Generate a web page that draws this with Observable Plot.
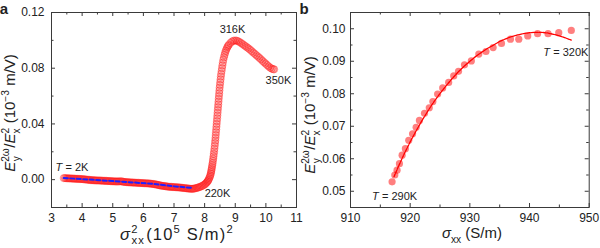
<!DOCTYPE html>
<html>
<head>
<meta charset="utf-8">
<script src="https://cdn.jsdelivr.net/npm/d3@7"></script>
<script src="https://cdn.jsdelivr.net/npm/@observablehq/plot@0.6"></script>
<style>
  html, body { margin: 0; padding: 0; background: #fff; }
  #fig { display: flex; width: 600px; height: 248px; }
  #fig svg { display: block; overflow: visible; }
</style>
</head>
<body>
<div id="fig"></div>
<script>
// Panel a: E_y^2w / E_x^2 versus sigma_xx^2 (10^5 S/m)^2, 2 K to 350 K
const sigmaSq = [
  3.40, 3.44, 3.48, 3.52, 3.56, 3.60, 3.64, 3.68, 3.72, 3.76,
  3.80, 3.84, 3.88, 3.92, 3.96, 4.00, 4.04, 4.08, 4.12, 4.16,
  4.20, 4.24, 4.28, 4.32, 4.36, 4.40, 4.44, 4.48, 4.52, 4.56,
  4.60, 4.64, 4.68, 4.72, 4.76, 4.80, 4.84, 4.88, 4.92, 4.96,
  5.00, 5.04, 5.08, 5.12, 5.16, 5.20, 5.24, 5.28, 5.32, 5.36,
  5.40, 5.44, 5.48, 5.52, 5.56, 5.60, 5.64, 5.68, 5.72, 5.76,
  5.80, 5.84, 5.88, 5.92, 5.96, 6.00, 6.04, 6.08, 6.12, 6.16,
  6.20, 6.24, 6.28, 6.32, 6.36, 6.40, 6.44, 6.48, 6.52, 6.56,
  6.60, 6.64, 6.68, 6.72, 6.76, 6.80, 6.84, 6.88, 6.92, 6.96,
  7.00, 7.04, 7.08, 7.12, 7.16, 7.20, 7.24, 7.28, 7.32, 7.36,
  7.40, 7.44, 7.48, 7.52, 7.56, 7.60, 7.64, 7.68, 7.72, 7.76,
  7.80, 7.84, 7.88, 7.92, 7.96, 8.00, 8.03, 8.06, 8.09, 8.11,
  8.13, 8.15, 8.17, 8.185, 8.20, 8.21, 8.22, 8.23, 8.24, 8.25,
  8.26, 8.27, 8.28, 8.29, 8.30, 8.31, 8.32, 8.33, 8.34, 8.348,
  8.355, 8.363, 8.37, 8.378, 8.385, 8.393, 8.40, 8.408, 8.415, 8.423,
  8.43, 8.438, 8.445, 8.453, 8.46, 8.468, 8.475, 8.483, 8.49, 8.50,
  8.51, 8.52, 8.53, 8.54, 8.555, 8.567, 8.58, 8.595, 8.61, 8.63,
  8.65, 8.67, 8.69, 8.715, 8.74, 8.765, 8.79, 8.84, 8.89, 8.94,
  8.99, 9.04, 9.09, 9.14, 9.19, 9.24, 9.29, 9.34, 9.39, 9.44,
  9.49, 9.54, 9.59, 9.64, 9.69, 9.74, 9.79, 9.84, 9.89, 9.94,
  9.99, 10.04, 10.09, 10.14, 10.19, 10.24, 10.27
];
const ratioA = [
  0.0011, 0.0011, 0.0010, 0.0010, 0.0009, 0.0009, 0.0008, 0.0008, 0.0007, 0.0007,
  0.0006, 0.0006, 0.0005, 0.0005, 0.0004, 0.0004, 0.0003, 0.0002, 0.0001, 0.0000,
  -0.0001, -0.0002, -0.0003, -0.0004, -0.0004, -0.0005, -0.0005, -0.0006, -0.0006, -0.0006,
  -0.0007, -0.0007, -0.0008, -0.0008, -0.0009, -0.0009, -0.0010, -0.0010, -0.0011, -0.0011,
  -0.0012, -0.0012, -0.0013, -0.0013, -0.0013, -0.0013, -0.0012, -0.0012, -0.0014, -0.0016,
  -0.0017, -0.0018, -0.0018, -0.0019, -0.0020, -0.0020, -0.0021, -0.0021, -0.0022, -0.0022,
  -0.0023, -0.0023, -0.0024, -0.0024, -0.0025, -0.0025, -0.0026, -0.0026, -0.0027, -0.0027,
  -0.0028, -0.0029, -0.0030, -0.0031, -0.0033, -0.0034, -0.0036, -0.0038, -0.0040, -0.0042,
  -0.0044, -0.0045, -0.0046, -0.0047, -0.0049, -0.0050, -0.0051, -0.0052, -0.0052, -0.0053,
  -0.0054, -0.0054, -0.0055, -0.0055, -0.0056, -0.0057, -0.0058, -0.0059, -0.0060, -0.0061,
  -0.0062, -0.0063, -0.0064, -0.0065, -0.0066, -0.0066, -0.0065, -0.0063, -0.0061, -0.0058,
  -0.0056, -0.0053, -0.0049, -0.0045, -0.0040, -0.0035, -0.0029, -0.0022, -0.0015, -0.0008,
  0.0000, 0.0010, 0.0020, 0.0030, 0.0042, 0.0053, 0.0065, 0.0077, 0.0090, 0.0104,
  0.0118, 0.0134, 0.0150, 0.0167, 0.0185, 0.0203, 0.0222, 0.0242, 0.0262, 0.0281,
  0.0300, 0.0320, 0.0340, 0.0360, 0.0380, 0.0400, 0.0420, 0.0440, 0.0460, 0.0480,
  0.0500, 0.0520, 0.0540, 0.0560, 0.0580, 0.0600, 0.0620, 0.0640, 0.0660, 0.0680,
  0.0700, 0.0720, 0.0740, 0.0760, 0.0780, 0.0800, 0.0820, 0.0840, 0.0860, 0.0878,
  0.0895, 0.0911, 0.0925, 0.0938, 0.0950, 0.0960, 0.0968, 0.0981, 0.0991, 0.0997,
  0.0999, 0.0998, 0.0994, 0.0988, 0.0981, 0.0973, 0.0965, 0.0957, 0.0949, 0.0941,
  0.0932, 0.0922, 0.0912, 0.0903, 0.0893, 0.0884, 0.0874, 0.0864, 0.0853, 0.0843,
  0.0833, 0.0823, 0.0813, 0.0804, 0.0797, 0.0793, 0.0792
];
// low-temperature linear trend (blue dashed)
const trendX = [3.40, 5.00, 6.30, 7.00, 7.55];
const trendY = [0.0012, -0.0010, -0.0030, -0.0048, -0.0058];

// Panel b: E_y^2w / E_x^2 versus sigma_xx (S/m), 290 K to 320 K
const sigmaXX = [
  916.97, 917.42, 917.80, 918.20, 918.65, 919.20, 919.76, 920.40, 921.00, 921.55,
  922.40, 923.20, 923.80, 924.60, 925.45, 926.45, 927.30, 928.10, 929.10, 930.25,
  931.50, 932.70, 933.90, 935.30, 936.80, 938.20, 939.70, 941.35, 943.10, 944.90, 947.00
];
const ratioB = [
  0.0529, 0.0550, 0.0565, 0.0585, 0.0611, 0.0631, 0.0657, 0.0677, 0.0697, 0.0718,
  0.0740, 0.0757, 0.0776, 0.0799, 0.0818, 0.0835, 0.0855, 0.0869, 0.0889, 0.0901,
  0.0922, 0.0930, 0.0942, 0.0955, 0.0968, 0.0968, 0.0978, 0.0985, 0.0985, 0.0988, 0.0995
];
// fitted curve (red dashed)
const fitX = [917.3, 918, 919, 920, 921, 922, 923, 924, 925, 926, 927, 928, 929, 930, 931, 932,
  933, 934, 935, 936, 937, 938, 939, 940, 941, 942, 943, 944, 945, 946, 947];
const fitY = [0.0545, 0.0575, 0.0615, 0.0652, 0.0686, 0.0718, 0.0748, 0.0776, 0.0801, 0.0824,
  0.0846, 0.0866, 0.0884, 0.0900, 0.0915, 0.0928, 0.0940, 0.0950, 0.0961, 0.0969, 0.0976,
  0.0981, 0.0985, 0.0988, 0.0989, 0.0989, 0.0987, 0.0983, 0.0978, 0.0972, 0.0965];

// axis ticks
const xMajorA = [3, 4, 5, 6, 7, 8, 9, 10, 11];
const xMinorA = [3.5, 4.5, 5.5, 6.5, 7.5, 8.5, 9.5, 10.5];
const yMajorA = [0, 0.04, 0.08, 0.12];
const yMinorA = [0.02, 0.06, 0.10];
const xMajorB = [910, 920, 930, 940, 950];
const xMinorB = [915, 925, 935, 945];
const yMajorB = [0.05, 0.06, 0.07, 0.08, 0.09, 0.10];
const yMinorB = [0.055, 0.065, 0.075, 0.085, 0.095];

const FONT = "'Liberation Sans', Arial, Helvetica, sans-serif";
const INK = "#222";
const FRAME = "#3a3a3a";
const W = 300, H = 248, MT = 12, MB = 41;
const innerH = H - MT - MB;

const zip = (xs, ys) => xs.map((x, i) => ({x, y: ys[i]}));

// inward ticks on all four sides of the frame
function frameTicks(xMaj, xMin, yMaj, yMin, innerW) {
  const maj = 4, min = 2.5, s = {stroke: FRAME, strokeWidth: 1};
  return [
    Plot.tickX(xMaj, {x: d => d, insetTop: innerH - maj, ...s}),
    Plot.tickX(xMaj, {x: d => d, insetBottom: innerH - maj, ...s}),
    Plot.tickX(xMin, {x: d => d, insetTop: innerH - min, ...s}),
    Plot.tickX(xMin, {x: d => d, insetBottom: innerH - min, ...s}),
    Plot.tickY(yMaj, {y: d => d, insetRight: innerW - maj, ...s}),
    Plot.tickY(yMaj, {y: d => d, insetLeft: innerW - maj, ...s}),
    Plot.tickY(yMin, {y: d => d, insetRight: innerW - min, ...s}),
    Plot.tickY(yMin, {y: d => d, insetLeft: innerW - min, ...s})
  ];
}

// rich text helper: parts = [[text, kind, dx]] with kind in n (normal), i (italic), sup, sub
function richText(svg, {x, y, rotate = 0, size = 15, spacing = 0, parts}) {
  const t = d3.select(svg).append("text")
    .attr("transform", `translate(${x},${y}) rotate(${rotate})`)
    .attr("text-anchor", "middle")
    .attr("font-family", FONT)
    .attr("font-size", size)
    .attr("letter-spacing", spacing)
    .attr("fill", INK);
  let level = 0;
  for (const [txt, kind, dx = 0] of parts) {
    const target = kind === "sup" ? -0.4 * size : kind === "sub" ? 0.3 * size : 0;
    const span = t.append("tspan").text(txt).attr("dy", target - level);
    if (dx) span.attr("dx", dx);
    level = target;
    if (kind === "sup" || kind === "sub") span.attr("font-size", size * 0.68);
    if (kind === "i") span.attr("font-style", "italic");
  }
  return t;
}

function panelLetter(svg, letter) {
  d3.select(svg).append("text")
    .attr("x", 4).attr("y", 14)
    .attr("font-family", FONT).attr("font-size", 15).attr("font-weight", "bold")
    .attr("fill", INK).text(letter);
}

function yTitle(svg, x, y) {
  richText(svg, {x, y, rotate: -90, size: 15, parts: [
    ["E", "i"], ["2ω", "sup"], ["y", "sub", -13], ["/", "n", 8.4], ["E", "i"], ["2", "sup"], ["x", "sub", -5.7],
    [" (10", "n", 1], ["−3", "sup"], [" m/V)", "n"]
  ]});
}

// ---------- panel a ----------
const innerWA = W - 51 - 4;
const chartA = Plot.plot({
  width: W, height: H,
  marginLeft: 51, marginRight: 4, marginTop: MT, marginBottom: MB,
  x: {domain: [3, 11]},
  y: {domain: [-0.02, 0.12]},
  style: {fontFamily: FONT, fontSize: "12px", color: INK, background: "transparent"},
  marks: [
    Plot.axisX({ticks: xMajorA, tickSize: 0, tickPadding: 6, tickFormat: d => String(d), label: null}),
    Plot.axisY({ticks: yMajorA, tickSize: 0, tickPadding: 7, tickFormat: d3.format(".2f"), label: null}),
    Plot.dot(zip(sigmaSq, ratioA), {x: "x", y: "y", r: 3.6, fill: "#ff0000", fillOpacity: 0.16,
      stroke: "#ff1010", strokeOpacity: 0.38, strokeWidth: 1}),
    Plot.line(zip(trendX, trendY), {x: "x", y: "y", stroke: "#1f1fff", strokeWidth: 2, strokeDasharray: "4 2.5"}),
    Plot.text(["T"], {x: 3.13, y: 0.0086, text: d => d, textAnchor: "start", fontStyle: "italic", fontSize: 11, fill: INK}),
    Plot.text(["= 2K"], {x: 3.13, y: 0.0086, dx: 10, text: d => d, textAnchor: "start", fontSize: 11, fill: INK}),
    Plot.text(["220K"], {x: 8.0, y: -0.0100, text: d => d, textAnchor: "start", fontSize: 11, fill: INK}),
    Plot.text(["316K"], {x: 8.49, y: 0.1078, text: d => d, textAnchor: "start", fontSize: 11, fill: INK}),
    Plot.text(["350K"], {x: 9.99, y: 0.0709, text: d => d, textAnchor: "start", fontSize: 11, fill: INK}),
    ...frameTicks(xMajorA, xMinorA, yMajorA, yMinorA, innerWA),
    Plot.frame({stroke: FRAME, strokeWidth: 1})
  ]
});
panelLetter(chartA, "a");
yTitle(chartA, 15, 113);
richText(chartA, {x: 177, y: 239.5, size: 16.5, spacing: 1.2, parts: [
  ["σ", "i"], ["2", "sup"], ["xx", "sub", -7.2], ["(10", "n", 1], ["5", "sup"], [" S/m)", "n"], ["2", "sup"]
]});

// ---------- panel b ----------
const innerWB = W - 50 - 11.3;
const chartB = Plot.plot({
  width: W, height: H,
  marginLeft: 50, marginRight: 11.3, marginTop: MT, marginBottom: MB,
  x: {domain: [910, 950]},
  y: {domain: [0.045, 0.105]},
  style: {fontFamily: FONT, fontSize: "12px", color: INK, background: "transparent"},
  marks: [
    Plot.axisX({ticks: xMajorB, tickSize: 0, tickPadding: 6, tickFormat: d => String(d), label: null}),
    Plot.axisY({ticks: yMajorB, tickSize: 0, tickPadding: 5, tickFormat: d3.format(".2f"), label: null}),
    Plot.dot(zip(sigmaXX, ratioB), {x: "x", y: "y", r: 3.6, fill: "#ff0000", fillOpacity: 0.5, stroke: "none"}),
    Plot.line(zip(fitX, fitY), {x: "x", y: "y", stroke: "#ff0000", strokeWidth: 1.3, strokeDasharray: "3 1"}),
    Plot.text(["T"], {x: 913.6, y: 0.0484, text: d => d, textAnchor: "start", fontStyle: "italic", fontSize: 11, fill: INK}),
    Plot.text(["= 290K"], {x: 913.6, y: 0.0484, dx: 10, text: d => d, textAnchor: "start", fontSize: 11, fill: INK}),
    Plot.text(["T"], {x: 942.3, y: 0.0926, text: d => d, textAnchor: "start", fontStyle: "italic", fontSize: 11, fill: INK}),
    Plot.text(["= 320K"], {x: 942.3, y: 0.0926, dx: 10, text: d => d, textAnchor: "start", fontSize: 11, fill: INK}),
    ...frameTicks(xMajorB, xMinorB, yMajorB, yMinorB, innerWB),
    Plot.frame({stroke: FRAME, strokeWidth: 1})
  ]
});
panelLetter(chartB, "b");
yTitle(chartB, 15, 115);
richText(chartB, {x: 172, y: 238, size: 15, parts: [
  ["σ", "i"], ["xx", "sub"], [" (S/m)", "n"]
]});

document.getElementById("fig").append(chartA, chartB);
</script>
</body>
</html>
